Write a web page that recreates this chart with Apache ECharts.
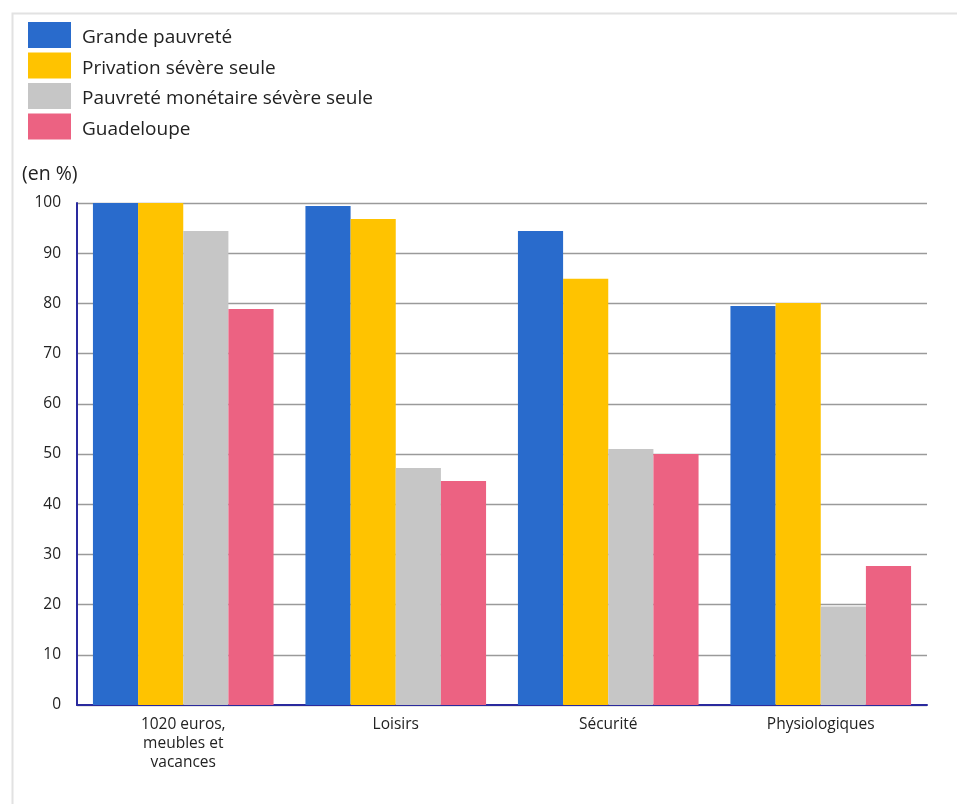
<!DOCTYPE html>
<html><head><meta charset="utf-8">
<script src="https://cdn.jsdelivr.net/npm/echarts@6/dist/echarts.min.js"></script>
<style>html,body{margin:0;padding:0;background:#fff}#c{width:957px;height:804px}</style>
</head><body><div id="c"></div>
<script>
const categories = ["1020 euros,\nmeubles et\nvacances", "Loisirs", "Sécurité", "Physiologiques"];
const seriesNames = ["Grande pauvreté", "Privation sévère seule", "Pauvreté monétaire sévère seule", "Guadeloupe"];
const grandePauvrete = [100, 99.4, 94.4, 79.5];
const privationSevere = [100, 96.8, 84.9, 80.1];
const pauvreteMonetaire = [94.4, 47.2, 51.0, 19.6];
const guadeloupe = [78.9, 44.6, 50.0, 27.7];
const yTicks = [0, 10, 20, 30, 40, 50, 60, 70, 80, 90, 100];
const colors = ["#296bcc", "#ffc300", "#c6c6c6", "#ec6282"];
const values = [grandePauvrete, privationSevere, pauvreteMonetaire, guadeloupe];
const font = "'Open Sans', 'Noto Sans', sans-serif";
const chart = echarts.init(document.getElementById('c'));
chart.setOption({
  animation: false,
  textStyle: {fontFamily: font},
  graphic: [
    {type: 'rect', left: 10, top: 11, shape: {width: 960, height: 800}, style: {fill: 'none', stroke: '#e2e2e2', lineWidth: 2}},
    {type: 'text', left: 22, top: 164, style: {text: '(en %)', font: "19.5px 'Open Sans', sans-serif", fill: '#222'}}
  ],
  legend: {
    orient: 'vertical', left: 28, top: 22, padding: 0, itemWidth: 43, itemHeight: 26, itemGap: 4.5,
    icon: 'rect', data: seriesNames,
    formatter: '{a|{name}}',
    textStyle: {fontSize: 19, color: '#222',
      rich: {a: {fontSize: 19, color: '#222', fontFamily: font, padding: [6, 0, 0, 6]}}}
  },
  grid: {left: 77, top: 203, right: 30, bottom: 99},
  xAxis: {
    type: 'category', data: categories,
    axisLine: {lineStyle: {color: '#2a2a9e', width: 2}},
    axisTick: {show: false},
    axisLabel: {fontSize: 15.5, color: '#222', lineHeight: 19, margin: 10}
  },
  yAxis: {
    type: 'value', min: yTicks[0], max: yTicks[yTicks.length - 1], interval: 10,
    axisLine: {show: true, lineStyle: {color: '#2a2a9e', width: 2}},
    axisTick: {show: false},
    axisLabel: {fontSize: 15.5, color: '#222', margin: 16},
    splitLine: {lineStyle: {color: '#9a9a9a', width: 1.3}}
  },
  series: seriesNames.map((n, i) => ({
    name: n, type: 'bar', data: values[i], barGap: '0%', barCategoryGap: '15%',
    itemStyle: {color: colors[i]}
  }))
});
</script></body></html>
